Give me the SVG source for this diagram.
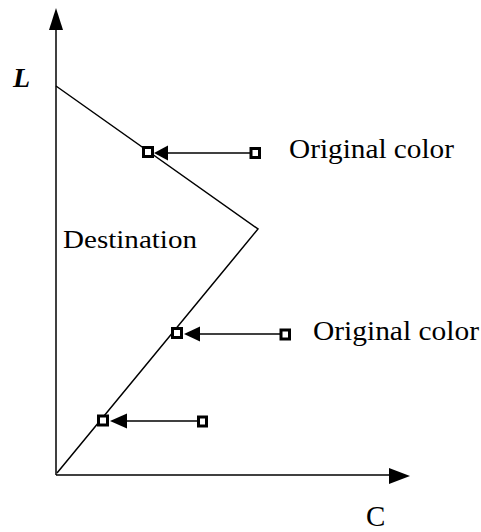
<svg xmlns="http://www.w3.org/2000/svg" width="481" height="532" viewBox="0 0 481 532">
<style>
.ln{stroke:#000;stroke-width:1.5;fill:none}
.sq{fill:#fff;stroke:#000;stroke-width:3}
.ah{fill:#000}
text{font-family:"Liberation Serif","Times New Roman",serif;fill:#000}
</style>
<rect width="481" height="532" fill="#fff"/>
<g id="axes">
<line class="ln" x1="56" y1="475" x2="56" y2="26"/>
<polygon class="ah" points="56,8 49,30 63,30"/>
<line class="ln" x1="56" y1="475" x2="392" y2="475"/>
<polygon class="ah" points="410,476 389,468 389,484"/>
<text x="13" y="87" font-size="28" font-style="italic" font-weight="bold">L</text>
<text x="366" y="526" font-size="29">C</text>
</g>
<g id="destination">
<polyline class="ln" points="56,86 258,229 57,473"/>
<text x="63" y="248" font-size="25" textLength="134" lengthAdjust="spacingAndGlyphs">Destination</text>
</g>
<g id="connectors">
<line class="ln" x1="250" y1="153" x2="165" y2="153"/>
<polygon class="ah" points="154,153 168,145.5 168,160.5"/>
<line class="ln" x1="280" y1="334" x2="198" y2="334"/>
<polygon class="ah" points="184,334 200,326.5 200,341.5"/>
<line class="ln" x1="198" y1="421" x2="125" y2="421"/>
<polygon class="ah" points="110,421 127,413.5 127,428.5"/>
</g>
<g id="point1">
<rect class="sq" x="143.5" y="147.5" width="9" height="9"/>
<rect class="sq" x="251" y="148.5" width="8.5" height="9"/>
<text x="289" y="158" font-size="27" textLength="165" lengthAdjust="spacingAndGlyphs">Original color</text>
</g>
<g id="point2">
<rect class="sq" x="172.5" y="328.5" width="9" height="9"/>
<rect class="sq" x="281" y="330" width="8.5" height="9"/>
<text x="313" y="340" font-size="27" textLength="166" lengthAdjust="spacingAndGlyphs">Original color</text>
</g>
<g id="point3">
<rect class="sq" x="98.5" y="416" width="9" height="9"/>
<rect class="sq" x="198.5" y="417" width="8" height="9"/>
</g>
</svg>
